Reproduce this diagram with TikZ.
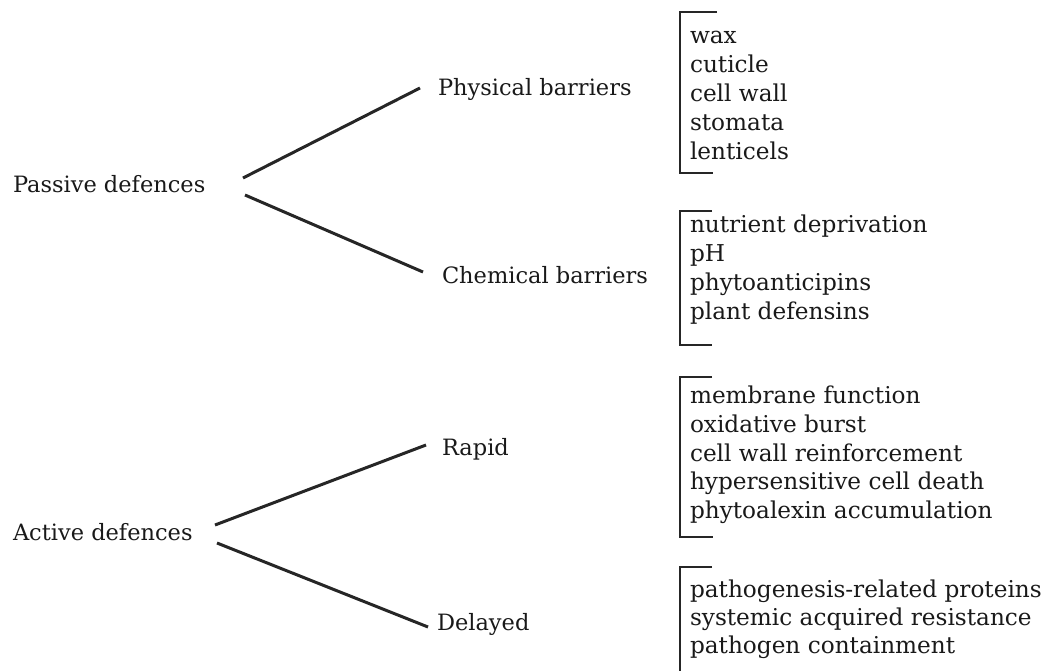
\documentclass[tikz,border=0pt]{standalone}
\usepackage{fontspec}
\setmainfont{DejaVu Serif}
\usetikzlibrary{calc}
\tikzset{
  lbl/.style={anchor=base west, inner sep=0pt, outer sep=0pt, font=\fontsize{22.5}{27}\selectfont, text=black!90},
  item/.style={lbl, font=\fontsize{23.2}{27}\selectfont},
  conn/.style={line width=3pt, black!85},
  brk/.style={line width=2.6pt, black!85}
}
\begin{document}
\begin{tikzpicture}[x=1pt,y=-1pt]
\useasboundingbox (0,0) rectangle (1044,670);
% main labels
\node[lbl] (pd) at (13,192) {Passive defences};
\node[lbl] (pb) at (438,95) {Physical barriers};
\node[lbl] (cb) at (442,283) {Chemical barriers};
\node[lbl] (ad) at (13,540) {Active defences};
\node[lbl] (rp) at (442,455) {Rapid};
\node[lbl] (dl) at (437,630) {Delayed};
% connectors
\draw[conn] ($(pd.base west)+(230,-14)$) -- ($(pb.base west)+(-18,-7)$);
\draw[conn] ($(pd.base west)+(232,3)$) -- ($(cb.base west)+(-19,-11)$);
\draw[conn] ($(ad.base west)+(202,-15)$) -- ($(rp.base west)+(-16,-10)$);
\draw[conn] ($(ad.base west)+(204,3)$) -- ($(dl.base west)+(-9,-3)$);
% physical list
\node[item] (p1) at (690,43) {wax};
\node[item] (p2) at (690,72.2) {cuticle};
\node[item] (p3) at (690,101.4) {cell wall};
\node[item] (p4) at (690,130.6) {stomata};
\node[item] (p5) at (690,159.8) {lenticels};
% chemical list
\node[item] (c1) at (690,232) {nutrient deprivation};
\node[item] (c2) at (690,261) {pH};
\node[item] (c3) at (690,290) {phytoanticipins};
\node[item] (c4) at (690,319) {plant defensins};
% rapid list
\node[item] (r1) at (690,403) {membrane function};
\node[item] (r2) at (690,432) {oxidative burst};
\node[item] (r3) at (690,461) {cell wall reinforcement};
\node[item] (r4) at (690,489.5) {hypersensitive cell death};
\node[item] (r5) at (690,518) {phytoalexin accumulation};
% delayed list
\node[item] (d1) at (690,597) {pathogenesis-related proteins};
\node[item] (d2) at (690,625) {systemic acquired resistance};
\node[item] (d3) at (690,653) {pathogen containment};
% brackets
\draw[brk] (717,12) -- (680,12) -- (680,173) -- (713,173);
\draw[brk] (712,211) -- (680,211) -- (680,345) -- (712,345);
\draw[brk] (712,377) -- (680,377) -- (680,537) -- (713,537);
\draw[brk] (712,567) -- (680,567) -- (680,671);
\end{tikzpicture}
\end{document}
